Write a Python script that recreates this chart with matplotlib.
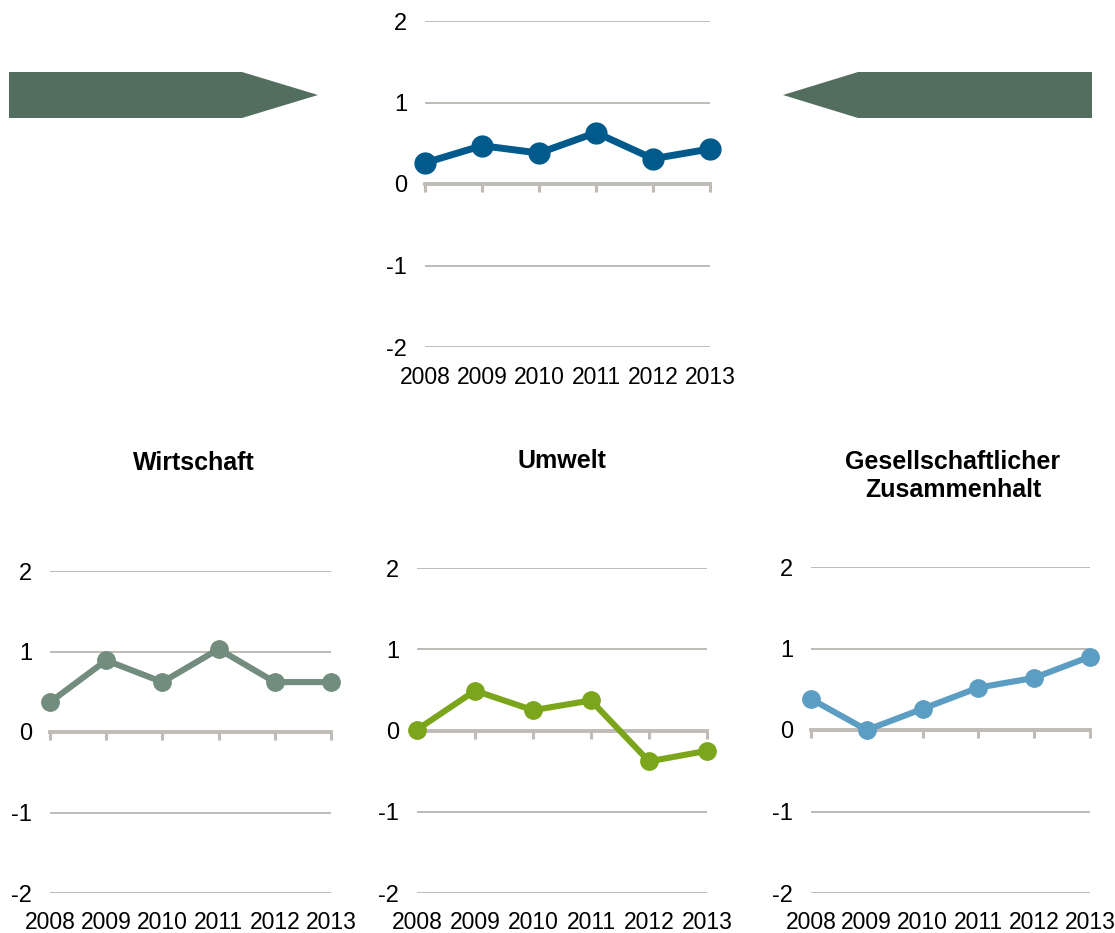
import matplotlib
matplotlib.use("Agg")
import matplotlib.pyplot as plt
from matplotlib.patches import Polygon

plt.rcParams['font.family'] = ['Liberation Sans', 'DejaVu Sans']

years = [2008, 2009, 2010, 2011, 2012, 2013]
year_labels = ["2008", "2009", "2010", "2011", "2012", "2013"]
y_ticks = [-2, -1, 0, 1, 2]
y_tick_labels = ["-2", "-1", "0", "1", "2"]

gesamt = [0.26, 0.47, 0.38, 0.63, 0.31, 0.43]
wirtschaft = [0.37, 0.89, 0.62, 1.03, 0.62, 0.62]
umwelt = [0.01, 0.49, 0.25, 0.37, -0.38, -0.25]
gesellschaft = [0.38, 0.0, 0.26, 0.52, 0.64, 0.90]

titles = ["", "Wirtschaft", "Umwelt", "Gesellschaftlicher\nZusammenhalt"]
colors = ["#005A8C", "#728C7E", "#7BA51A", "#5B9DC3"]

W, H = 1115, 933
fig = plt.figure(figsize=(W / 100, H / 100), dpi=100)

def px_axes(x0, x1, ytop, ybot):
    return fig.add_axes([x0 / W, 1 - ybot / H, (x1 - x0) / W, (ybot - ytop) / H])

grid_col = "#BFBBB6"

def panel(ax, values, color, lw, ms, xpad):
    ax.set_xlim(years[0], years[-1])
    ax.set_ylim(-2, 2)
    for s in ["left", "right", "top"]:
        ax.spines[s].set_visible(False)
    ax.spines["bottom"].set_position(("data", 0))
    ax.spines["bottom"].set_color(grid_col)
    ax.spines["bottom"].set_linewidth(2.8)
    ax.spines["bottom"].set_zorder(1)
    ax.set_yticks(y_ticks)
    ax.set_yticklabels(y_tick_labels)
    ax.tick_params(axis="y", length=0, pad=13, labelsize=17)
    ax.set_xticks(years)
    ax.tick_params(axis="x", direction="out", length=6, width=2.2,
                   color=grid_col, labelbottom=False)
    for t in y_ticks:
        if t != 0:
            ax.axhline(t, color=grid_col, lw=1.4, zorder=0)
    ax.plot(years, values, color=color, lw=lw, marker="o", ms=ms,
            clip_on=False, zorder=3, solid_joinstyle="round")
    sec = ax.secondary_xaxis(-0.0)
    sec.set_xticks(years)
    sec.set_xticklabels(year_labels)
    sec.tick_params(length=0, pad=xpad, labelsize=16.5)
    sec.spines["bottom"].set_visible(False)

ax0 = px_axes(425, 710, 21, 347)
panel(ax0, gesamt, colors[0], 5.0, 15, 14)

ax1 = px_axes(50, 331, 571, 893)
panel(ax1, wirtschaft, colors[1], 4.4, 12.5, 13)
ax2 = px_axes(417, 707, 568, 893)
panel(ax2, umwelt, colors[2], 4.4, 12.5, 13)
ax3 = px_axes(811, 1090, 567, 893)
panel(ax3, gesellschaft, colors[3], 4.4, 12.5, 13)

fig.text(194 / W, 1 - 463 / H, titles[1], ha="center", va="center",
         fontsize=18, fontweight="bold")
fig.text(562 / W, 1 - 461 / H, titles[2], ha="center", va="center",
         fontsize=18, fontweight="bold")
fig.text(953 / W, 1 - 476 / H, titles[3], ha="center", va="center",
         fontsize=18, fontweight="bold", linespacing=1.25)

arrow_col = "#536E5F"
left_arrow = [(9, 72), (242, 72), (318, 95), (242, 118), (9, 118)]
right_arrow = [(1092, 72), (858, 72), (783, 95), (858, 118), (1092, 118)]
for pts in (left_arrow, right_arrow):
    poly = Polygon([(x / W, 1 - y / H) for x, y in pts], closed=True,
                   transform=fig.transFigure, facecolor=arrow_col,
                   edgecolor="none")
    fig.patches.append(poly)

fig.savefig("out.png", dpi=100)
